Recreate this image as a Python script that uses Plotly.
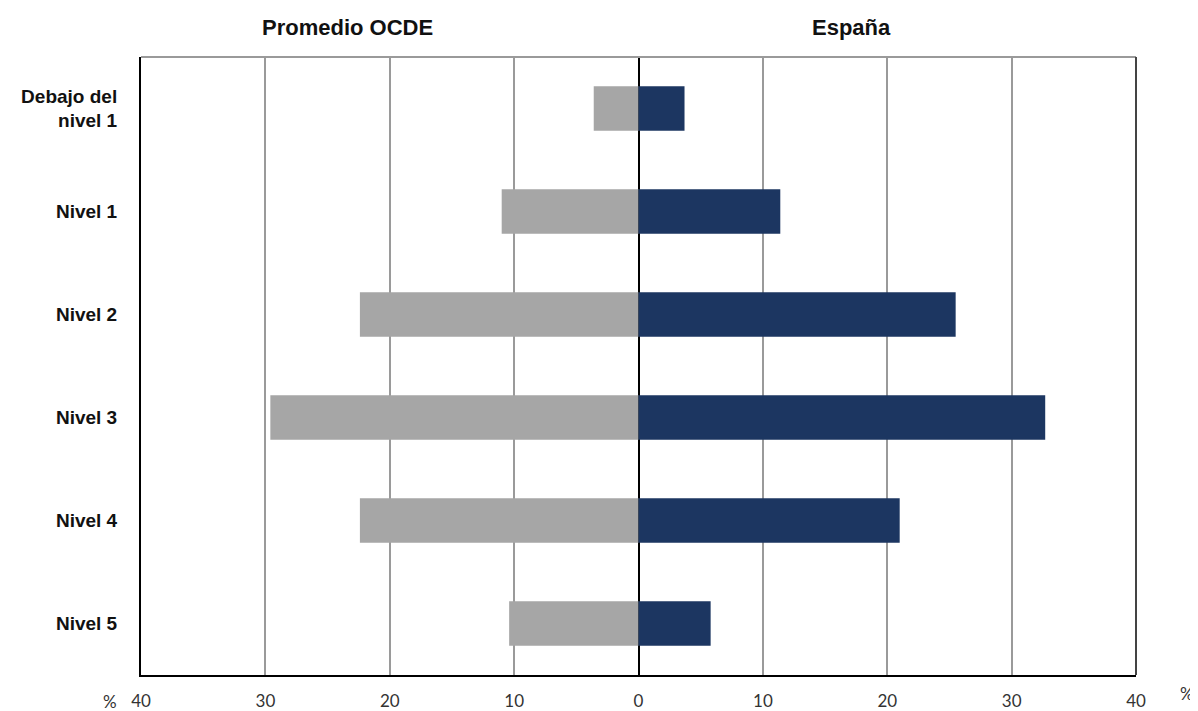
import plotly.graph_objects as go

categories = ["Debajo del<br>nivel 1", "Nivel 1", "Nivel 2", "Nivel 3", "Nivel 4", "Nivel 5"]
ocde = [3.6, 11.0, 22.4, 29.6, 22.4, 10.4]
espana = [3.7, 11.4, 25.5, 32.7, 21.0, 5.8]
tick_vals = [-40, -30, -20, -10, 0, 10, 20, 30, 40]
tick_text = ["40", "30", "20", "10", "0", "10", "20", "30", "40"]

# page offset (body margin) of 8px
OFF = 8
PL, PR, PT, PB = 141, 1136, 57, 675  # target plot area in screenshot pixels
PW, PH = PR - PL, PB - PT

fig = go.Figure()
fig.add_trace(go.Bar(y=categories, x=[-v for v in ocde], orientation="h",
                     marker=dict(color="#a6a6a6", line=dict(width=0)),
                     name="Promedio OCDE", hoverinfo="skip"))
fig.add_trace(go.Bar(y=categories, x=espana, orientation="h",
                     marker=dict(color="#1c3661", line=dict(width=0)),
                     name="España", hoverinfo="skip"))

W, H = 1198, 711
fig.update_layout(
    width=W, height=H,
    margin=dict(l=PL - OFF, r=W - (PR - OFF), t=PT - OFF, b=H - (PB - OFF)),
    paper_bgcolor="white", plot_bgcolor="white",
    barmode="overlay", bargap=0.57,
    showlegend=False,
    xaxis=dict(range=[-40, 40], tickvals=tick_vals, ticktext=tick_text,
               automargin=False,
               showgrid=True, gridcolor="#9a9a9a", gridwidth=1.5,
               zeroline=True, zerolinecolor="black", zerolinewidth=1.5,
               showline=True, linecolor="black", linewidth=2,
               ticks="", ticklabelstandoff=10,
               tickfont=dict(family="Lato", size=17, color="#333333")),
    yaxis=dict(autorange="reversed", showgrid=False, zeroline=False,
               automargin=False,
               showline=True, linecolor="black", linewidth=2,
               ticks="", ticklabelstandoff=18,
               tickfont=dict(family="Liberation Sans", size=19, color="#111111", weight="bold")),
    font=dict(family="Liberation Sans"),
)

# top and right frame lines
fig.add_shape(type="line", xref="paper", yref="paper", x0=0, x1=1, y0=1, y1=1,
              line=dict(color="#9a9a9a", width=2))
fig.add_shape(type="line", xref="paper", yref="paper", x0=1, x1=1, y0=0, y1=1,
              line=dict(color="#444444", width=2))

def px_x(x):
    return (x - PL) / PW

def px_y(y):
    return (PB - y) / PH

annots = [
    dict(text="<b>Promedio OCDE</b>", x=px_x(347), xref="paper", y=px_y(27), yref="paper",
         yanchor="middle", xanchor="center", showarrow=False,
         font=dict(family="Liberation Sans", size=22, color="#111111")),
    dict(text="<b>España</b>", x=px_x(851), xref="paper", y=px_y(27), yref="paper",
         yanchor="middle", xanchor="center", showarrow=False,
         font=dict(family="Liberation Sans", size=22, color="#111111")),
    dict(text="%", x=px_x(110), xref="paper", y=px_y(701), yref="paper",
         yanchor="middle", xanchor="center", showarrow=False,
         font=dict(family="Lato", size=17, color="#333333")),
    dict(text="%", x=px_x(1187), xref="paper", y=px_y(693), yref="paper",
         yanchor="middle", xanchor="center", showarrow=False,
         font=dict(family="Lato", size=17, color="#333333")),
]
for a in annots:
    fig.add_annotation(**a)

fig.write_html("out.html")
